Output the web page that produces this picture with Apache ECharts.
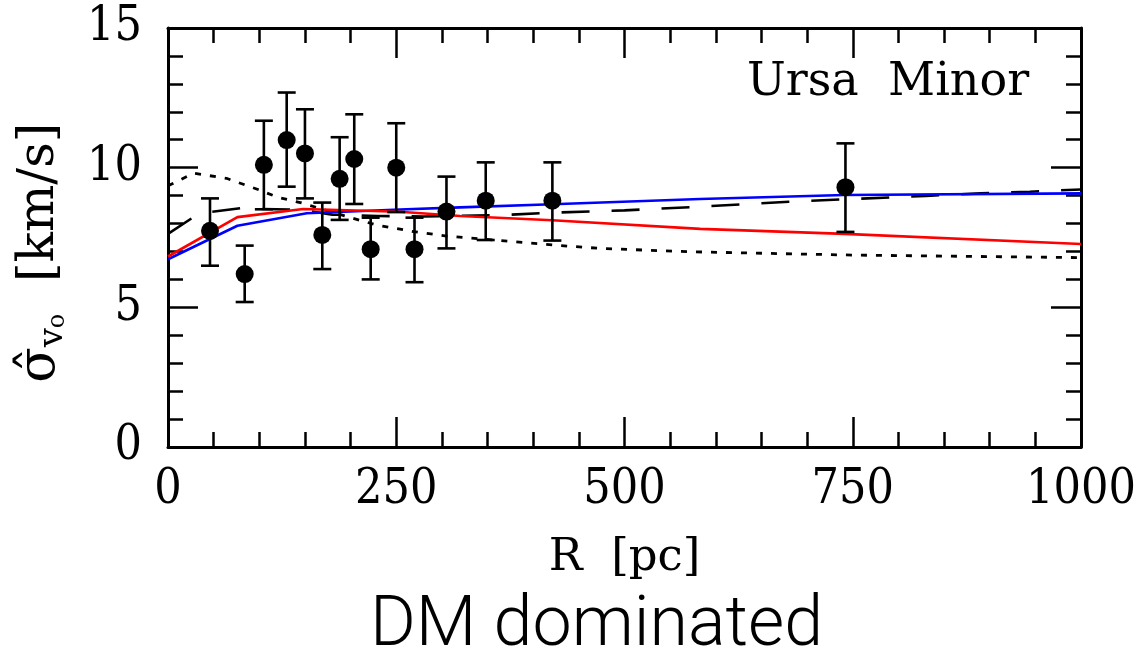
<!DOCTYPE html>
<html>
<head>
<meta charset="utf-8">
<script src="https://cdn.jsdelivr.net/npm/echarts@6/dist/echarts.min.js"></script>
<style>
html,body{margin:0;padding:0;background:#fff;}
#chart{width:1145px;height:652px;}
</style>
</head>
<body>
<div id="chart"></div>
<script>
// Observed data points
const R = [46, 84, 105, 130, 150, 169, 188, 204, 222, 250, 270, 305, 348, 421, 742];
const sigma = [7.74, 6.19, 10.1, 10.99, 10.51, 7.59, 9.6, 10.31, 7.08, 10.0, 7.08, 8.43, 8.82, 8.82, 9.3];
const errLow = [6.49, 5.19, 8.51, 9.32, 8.9, 6.37, 8.13, 8.7, 6.0, 8.41, 5.9, 7.11, 7.41, 7.39, 7.7];
const errHigh = [8.9, 7.21, 11.68, 12.69, 12.09, 8.75, 11.09, 11.91, 8.21, 11.59, 8.21, 9.68, 10.19, 10.19, 10.87];

// Model curves
const redR = [0, 76, 148, 254, 320, 421, 583, 741, 1000];
const redS = [6.82, 8.23, 8.52, 8.42, 8.27, 8.12, 7.81, 7.63, 7.27];
const blueR = [0, 76, 152, 254, 320, 421, 583, 741, 1000];
const blueS = [6.72, 7.92, 8.37, 8.5, 8.58, 8.69, 8.88, 9.02, 9.08];
const dashR = [0, 26, 48, 80, 100, 143, 180, 230, 280, 370, 420, 500, 580, 680, 744, 830, 890, 944, 1000];
const dashS = [7.63, 8.19, 8.42, 8.55, 8.52, 8.5, 8.32, 8.27, 8.25, 8.31, 8.39, 8.47, 8.6, 8.78, 8.87, 8.99, 9.08, 9.14, 9.22];
const dotR = [0, 28, 64, 100, 120, 145, 196, 228, 269, 305, 345, 422, 473, 570, 750, 1000];
const dotS = [9.35, 9.8, 9.62, 9.2, 8.94, 8.75, 8.25, 7.95, 7.71, 7.55, 7.44, 7.23, 7.11, 6.99, 6.87, 6.78];

// Axis ticks
const xTicks = [0, 250, 500, 750, 1000];
const yTicks = [0, 5, 10, 15];

const zip = (a, b) => a.map((v, i) => [v, b[i]]);
const serifC = "'DejaVu Serif Condensed', 'DejaVu Serif', serif";
const serif = "'DejaVu Serif', serif";

const chart = echarts.init(document.getElementById('chart'), null, {renderer: 'canvas'});

const frameLine = {show: true, onZero: false, lineStyle: {color: '#000', width: 3}};
const tick = {show: true, inside: true, length: 30, lineStyle: {color: '#000', width: 2.5}};
const minor = {show: true, splitNumber: 5, length: 15, lineStyle: {color: '#000', width: 2.5}};

const option = {
  animation: false,
  backgroundColor: '#fff',
  grid: {left: 168, right: 64, top: 28, bottom: 205, containLabel: false},
  xAxis: [
    {
      type: 'value', min: xTicks[0], max: xTicks[xTicks.length - 1], interval: 250,
      position: 'bottom',
      axisLine: frameLine, axisTick: tick, minorTick: minor,
      splitLine: {show: false},
      axisLabel: {show: true, margin: 20, color: '#000', fontSize: 48, fontFamily: serifC,
        formatter: v => xTicks.includes(v) ? String(v) : ''},
      name: 'R  [pc]', nameLocation: 'middle', nameGap: 89,
      nameTextStyle: {color: '#000', fontSize: 45, fontFamily: serif}
    },
    {
      type: 'value', min: xTicks[0], max: xTicks[xTicks.length - 1], interval: 250,
      position: 'top',
      axisLine: frameLine, axisTick: tick, minorTick: minor,
      splitLine: {show: false}, axisLabel: {show: false}
    }
  ],
  yAxis: [
    {
      type: 'value', min: yTicks[0], max: yTicks[yTicks.length - 1], interval: 5,
      position: 'left',
      axisLine: frameLine, axisTick: tick, minorTick: minor,
      splitLine: {show: false},
      axisLabel: {show: true, margin: 26, color: '#000', fontSize: 48, fontFamily: serifC,
        formatter: v => yTicks.includes(v) ? String(v) : ''},
      name: '{sig|σ̂}{sub|v}{subo|o}  {u|[km/s]}{pad|    }', nameLocation: 'middle', nameGap: 98, nameRotate: 90,
      nameTextStyle: {
        color: '#000', fontFamily: serif, fontSize: 50,
        rich: {
          sig: {fontSize: 52, fontFamily: serif, color: '#000', lineHeight: 60},
          sub: {fontSize: 34, fontFamily: serif, color: '#000', verticalAlign: 'bottom', lineHeight: 60},
          subo: {fontSize: 24, fontFamily: serif, color: '#000', verticalAlign: 'bottom', lineHeight: 54},
          u: {fontSize: 50, fontFamily: serif, color: '#000', lineHeight: 60},
          pad: {fontSize: 24, fontFamily: serif, color: '#000', lineHeight: 60}
        }
      }
    },
    {
      type: 'value', min: yTicks[0], max: yTicks[yTicks.length - 1], interval: 5,
      position: 'right',
      axisLine: frameLine, axisTick: tick, minorTick: minor,
      splitLine: {show: false}, axisLabel: {show: false}
    }
  ],
  graphic: [
    {
      type: 'text', left: 747, top: 60,
      style: {text: 'Ursa  Minor', fill: '#000', font: "46px 'DejaVu Serif', serif"}
    },
    {
      type: 'text', left: 370, top: 592,
      style: {text: 'DM dominated', fill: '#000', font: "300 70px Roboto, 'Liberation Sans', sans-serif"}
    }
  ],
  series: [
    {
      type: 'line', name: 'dotted', data: zip(dotR, dotS), showSymbol: false, symbol: 'none',
      lineStyle: {color: '#000', width: 2.8, type: [6, 9]}, z: 2
    },
    {
      type: 'line', name: 'dashed', data: zip(dashR, dashS), showSymbol: false, symbol: 'none',
      lineStyle: {color: '#000', width: 2.6, type: [28, 22]}, z: 2
    },
    {
      type: 'line', name: 'blue', data: zip(blueR, blueS), showSymbol: false, symbol: 'none',
      lineStyle: {color: '#0000ff', width: 2.6}, z: 3
    },
    {
      type: 'line', name: 'red', data: zip(redR, redS), showSymbol: false, symbol: 'none',
      lineStyle: {color: '#ff0000', width: 2.6}, z: 3
    },
    {
      type: 'custom', name: 'errors',
      data: R.map((r, i) => [r, errLow[i], errHigh[i]]),
      renderItem: function (params, api) {
        const x = api.value(0);
        const lo = api.coord([x, api.value(1)]);
        const hi = api.coord([x, api.value(2)]);
        const hw = 9;
        const st = {stroke: '#000', lineWidth: 2.6};
        return {
          type: 'group',
          children: [
            {type: 'line', shape: {x1: lo[0], y1: lo[1], x2: hi[0], y2: hi[1]}, style: st},
            {type: 'line', shape: {x1: lo[0] - hw, y1: lo[1], x2: lo[0] + hw, y2: lo[1]}, style: st},
            {type: 'line', shape: {x1: hi[0] - hw, y1: hi[1], x2: hi[0] + hw, y2: hi[1]}, style: st}
          ]
        };
      },
      z: 4
    },
    {
      type: 'scatter', name: 'data', data: zip(R, sigma), symbol: 'circle', symbolSize: 18,
      itemStyle: {color: '#000', opacity: 1}, z: 5
    }
  ]
};
chart.setOption(option);
</script>
</body>
</html>
